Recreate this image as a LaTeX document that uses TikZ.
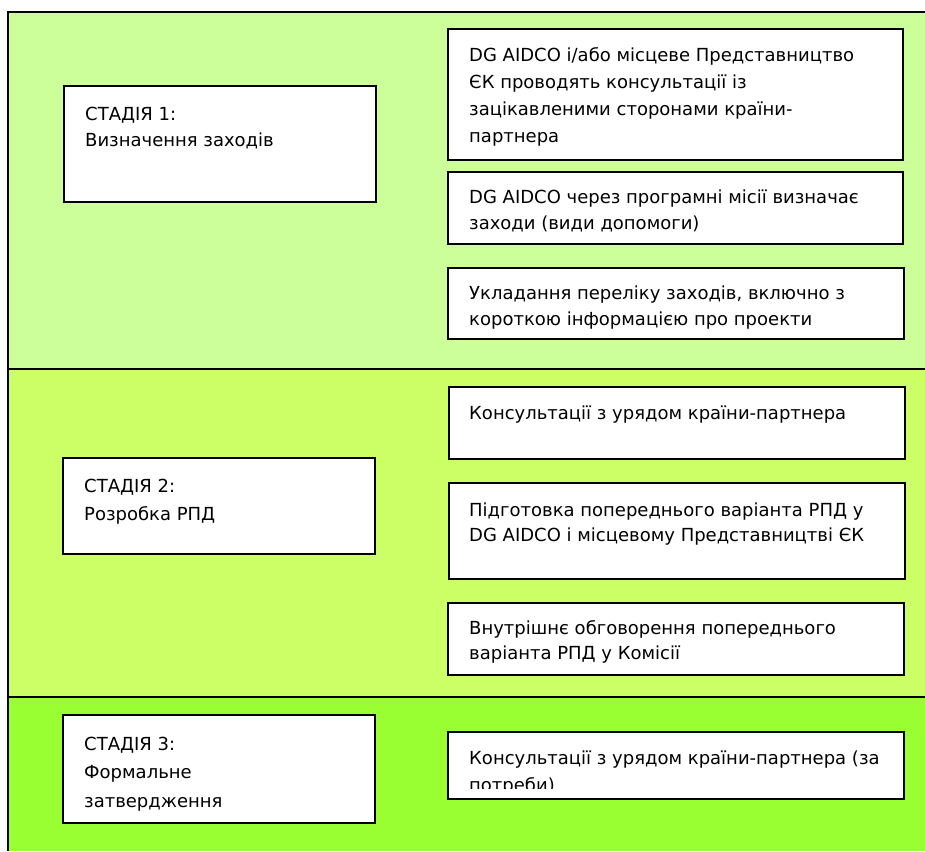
\documentclass[tikz,border=0pt]{standalone}
\usepackage{fontspec}
\setmainfont{DejaVu Sans}
\usepackage{tikz}
\usepackage{xcolor}
\definecolor{stageone}{HTML}{CCFF99}
\definecolor{stagetwo}{HTML}{CCFF66}
\definecolor{stagethree}{HTML}{99FF33}
\tikzset{
  box/.style={draw, line width=1.8pt, fill=white, anchor=north west, inner sep=0pt, outer sep=0pt},
  txt/.style={anchor=north west, inner sep=0pt, align=left, font=\fontsize{18}{26}\selectfont},
}
\begin{document}
\begin{tikzpicture}[x=1pt, y=-1pt]
\useasboundingbox (0,0) rectangle (925,851);
% bands
\fill[stageone] (8,12) rectangle (925,369);
\fill[stagetwo] (8,369) rectangle (925,697);
\fill[stagethree] (8,697) rectangle (925,851);
\draw[line width=2pt] (8,851) -- (8,12) -- (925,12);
\draw[line width=2pt] (8,369) -- (925,369);
\draw[line width=2pt] (8,697) -- (925,697);
% stage 1
\node[box, minimum width=312pt, minimum height=116pt] (s1) at (64,86) {};
\node[txt] (s1t) at ([xshift=21pt, yshift=-16pt]s1.north west) {\strut СТАДІЯ 1:\\Визначення заходів};
\node[box, minimum width=455pt, minimum height=131pt] (a1) at (448,29) {};
\node[txt, font=\fontsize{18}{27}\selectfont] (a1t) at ([xshift=21pt, yshift=-13pt]a1.north west) {\strut DG AIDCO і/або місцеве Представництво\\ЄК проводять консультації із\\зацікавленими сторонами країни-\\партнера};
\node[box, minimum width=455pt, minimum height=72pt] (a2) at (448,172) {};
\node[txt] (a2t) at ([xshift=21pt, yshift=-13pt]a2.north west) {\strut DG AIDCO через програмні місії визначає\\заходи (види допомоги)};
\node[box, minimum width=456pt, minimum height=71pt] (a3) at (448,268) {};
\node[txt] (a3t) at ([xshift=21pt, yshift=-13pt]a3.north west) {\strut Укладання переліку заходів, включно з\\короткою інформацією про проекти};
% stage 2
\node[box, minimum width=312pt, minimum height=96pt] (s2) at (63,458) {};
\node[txt, font=\fontsize{18}{28}\selectfont] (s2t) at ([xshift=21pt, yshift=-15pt]s2.north west) {\strut СТАДІЯ 2:\\Розробка РПД};
\node[box, minimum width=456pt, minimum height=72pt] (b1) at (449,387) {};
\node[txt] (b1t) at ([xshift=20pt, yshift=-14pt]b1.north west) {\strut Консультації з урядом країни-партнера};
\node[box, minimum width=456pt, minimum height=96pt] (b2) at (449,483) {};
\node[txt, font=\fontsize{18}{25}\selectfont] (b2t) at ([xshift=20pt, yshift=-16pt]b2.north west) {\strut Підготовка попереднього варіанта РПД у\\DG AIDCO і місцевому Представництві ЄК};
\node[box, minimum width=456pt, minimum height=72pt] (b3) at (448,603) {};
\node[txt, font=\fontsize{18}{25}\selectfont] (b3t) at ([xshift=21pt, yshift=-14pt]b3.north west) {\strut Внутрішнє обговорення попереднього\\варіанта РПД у Комісії};
% stage 3
\node[box, minimum width=312pt, minimum height=108pt] (s3) at (63,715) {};
\node[txt, font=\fontsize{18}{28.5}\selectfont] (s3t) at ([xshift=21pt, yshift=-15pt]s3.north west) {\strut СТАДІЯ 3:\\Формальне\\затвердження};
\node[box, minimum width=456pt, minimum height=67pt] (c1) at (448,732) {};
\begin{scope}
\clip (c1.north west) rectangle ([yshift=11pt]c1.south east);
\node[txt, font=\fontsize{18}{27}\selectfont] (c1t) at ([xshift=21pt, yshift=-13pt]c1.north west) {\strut Консультації з урядом країни-партнера (за\\потреби)};
\end{scope}
\end{tikzpicture}
\end{document}
